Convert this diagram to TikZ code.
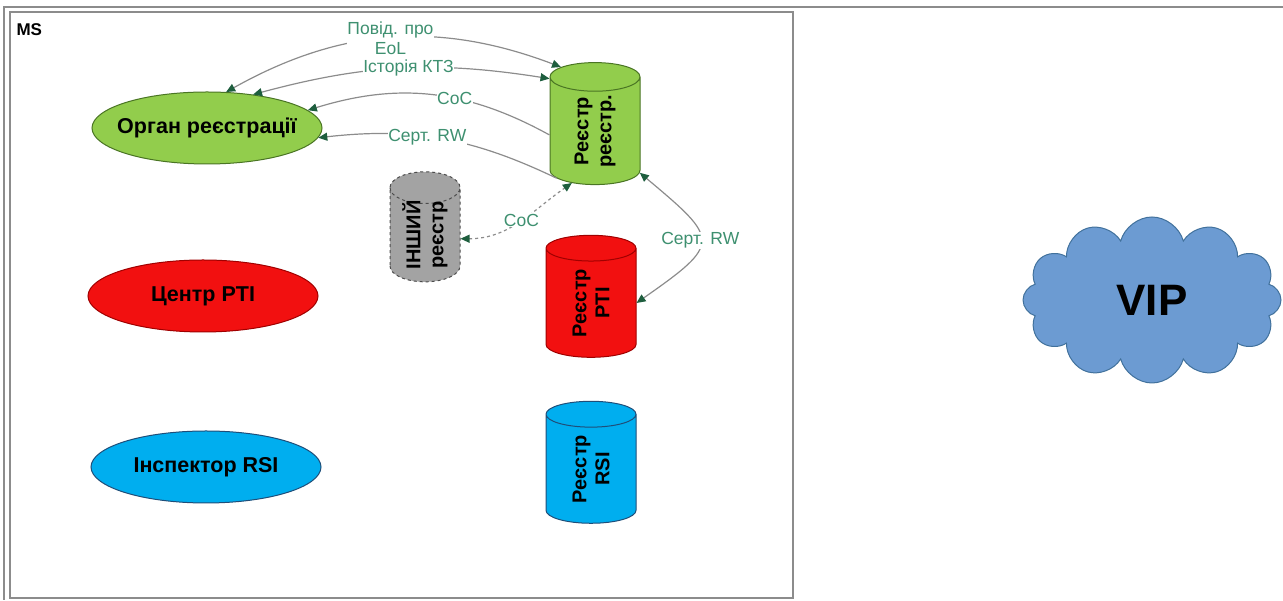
\documentclass[tikz,border=0pt]{standalone}
\usepackage{fontspec}
\setmainfont{Liberation Sans}
\usetikzlibrary{positioning,arrows.meta,shapes.geometric,shapes.symbols}
\definecolor{regGreen}{HTML}{92CD4C}
\definecolor{regGreenEdge}{HTML}{4A7524}
\definecolor{ptiRed}{HTML}{F21010}
\definecolor{ptiRedEdge}{HTML}{A00000}
\definecolor{rsiBlue}{HTML}{00AEEF}
\definecolor{rsiBlueEdge}{HTML}{1F4E79}
\definecolor{otherGray}{HTML}{A3A3A3}
\definecolor{cloudBlue}{HTML}{6C9BD2}
\definecolor{cloudEdge}{HTML}{41719C}
\definecolor{lineGray}{HTML}{8C8C8C}
\definecolor{tipGreen}{HTML}{1E5E3E}
\definecolor{tagGreen}{HTML}{3E9070}

\begin{document}
\begin{tikzpicture}[
    x=1pt, y=1pt,
    >={Triangle[length=9pt,width=8pt,color=tipGreen]},
    actor/.style={draw, ellipse, minimum width=230pt, minimum height=72pt, inner xsep=-10pt, inner ysep=0pt, line width=1pt, font=\fontsize{21.5}{23}\selectfont\bfseries},
    store/.style={draw, cylinder, rotate=90, aspect=0.7, minimum width=90pt, minimum height=122pt, inner sep=0pt, align=center, line width=1pt, font=\fontsize{20}{23}\selectfont\bfseries},
    arrow/.style={->, draw=lineGray, line width=1.2pt},
    biarrow/.style={<->, draw=lineGray, line width=1.2pt},
    tag/.style={fill=white, inner sep=0.5pt, text=tagGreen, align=center, font=\fontsize{17.5}{20}\selectfont},
    frame/.style={draw=lineGray, line width=1.8pt}
]
\useasboundingbox (0,0) rectangle (1283,601);

% Frames
\draw[frame] (4,1) -- (4,594) -- (1283,594);
\draw[frame] (10,3) rectangle (793,589);
\node[anchor=west, font=\fontsize{17}{17}\selectfont\bfseries] (ms) at (13,571) {MS};

% Actors
\node[actor, fill=regGreen, draw=regGreenEdge] (organ) at (207,473) {Орган реєстрації};
\node[actor, fill=ptiRed, draw=ptiRedEdge] (ptictr) at (203,305) {Центр PTI};
\node[actor, fill=rsiBlue, draw=rsiBlueEdge] (rsiinsp) at (206,134) {Інспектор RSI};

% Registers
\node[store, fill=regGreen, draw=regGreenEdge] (regreg) at (595,470) {Реєстр\\реєстр.};
\node[store, fill=otherGray, draw=black!70, dashed, minimum width=70pt, minimum height=110pt, inner xsep=-4pt] (other) at (425,366) {ІНШИЙ\\реєстр};
\node[store, fill=ptiRed, draw=ptiRedEdge] (regpti) at (591,298) {Реєстр\\PTI};
\node[store, fill=rsiBlue, draw=rsiBlueEdge] (regrsi) at (591,132) {Реєстр\\RSI};

% VIP
\node[cloud, cloud puffs=12, aspect=1.6, fill=cloudBlue, draw=cloudEdge, line width=1pt, minimum width=258pt, minimum height=166pt, inner sep=0pt, font=\fontsize{44}{44}\selectfont\bfseries] (vip) at (1152,301) {VIP};

% Arrows
\draw[biarrow] (organ.62) to[bend left=25] node[tag]{Повід. про\\EoL} (regreg.28);
\draw[biarrow] (organ.36) to[bend left=12] node[tag, pos=0.53]{Історія КТЗ} (regreg.41);
\draw[arrow] (regreg.95) to[bend right=23] node[tag, pos=0.4]{CoC} (organ.10);
\draw[arrow] (regreg.141) to[bend right=16] node[tag, pos=0.56]{Серт. RW} (organ.-5);
\draw[biarrow, dashed] (other.-96) to[out=0, in=215] node[tag, pos=0.52]{CoC} (regreg.156);
\draw[biarrow] (regreg.-133) to[out=-40, in=35, looseness=2.05] node[tag]{Серт. RW} (regpti.-90);
\end{tikzpicture}
\end{document}
